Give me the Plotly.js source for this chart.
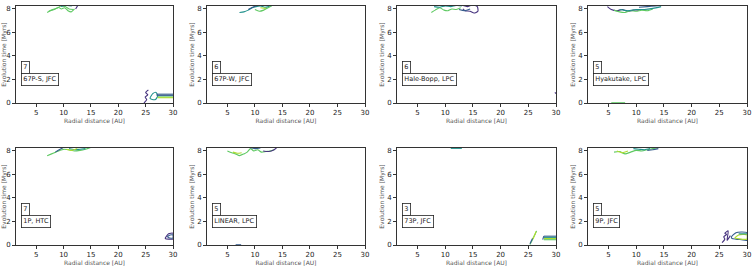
<!DOCTYPE html>
<html>
<head>
<meta charset="utf-8">
<script src="https://cdn.plot.ly/plotly-3.0.1.min.js"></script>
<style>
  html, body { margin: 0; padding: 0; background: #fff; }
  #chart { width: 755px; height: 269px; }
</style>
</head>
<body>
<div id="chart"></div>
<script>
// Contour levels (viridis) drawn as thin lines
const levelColors = ['#46327e', '#365c8d', '#21918c', '#5ec962', '#addc30'];

// Comet panels: name, number of evolution tracks
const panelNames = ['67P-S, JFC', '67P-W, JFC', 'Hale-Bopp, LPC', 'Hyakutake, LPC',
                    '1P, HTC', 'LINEAR, LPC', '73P, JFC', '9P, JFC'];
const panelCounts = ['7', '6', '6', '5', '7', '5', '3', '5'];

// Axis ticks
const xTicks = [5, 10, 15, 20, 25, 30];
const yTicks = [0, 2, 4, 6, 8];

// Contour segments per panel: [level, radial distances (AU), times (Myr)]
const contours67PS = [
  [3, [7.0, 7.6, 8.3, 9.0, 9.6, 10.2, 10.8, 11.4, 12.0], [7.7, 7.85, 7.95, 8.15, 8.0, 8.1, 7.85, 7.75, 8.0]],
  [3, [7.3, 8.0, 8.8, 9.5, 10.3, 11.0, 11.8], [7.8, 7.95, 8.05, 8.25, 8.2, 8.0, 7.95]],
  [2, [9.5, 10.5, 11.5], [8.2, 8.3, 8.25]],
  [0, [12.2, 12.6], [8.0, 8.3]],
  [0, [24.7, 25.2, 24.9, 25.4, 25.0, 25.5], [0.0, 0.3, 0.5, 0.7, 0.9, 1.1]],
  [2, [25.8, 26.3, 26.9, 27.2, 26.8, 26.2, 25.8], [0.4, 0.8, 0.9, 0.6, 0.3, 0.3, 0.4]],
  [1, [27.0, 30.0], [0.75, 0.75]],
  [1, [27.0, 30.0], [0.65, 0.65]],
  [3, [27.2, 30.0], [0.52, 0.52]],
  [4, [27.2, 30.0], [0.45, 0.45]]
];
const contours67PW = [
  [2, [7.2, 8.0, 8.8, 9.5, 10.2, 11.0, 11.8, 12.5, 13.2, 14.0], [7.7, 7.75, 7.9, 8.1, 8.2, 8.25, 8.15, 8.2, 8.3, 8.3]],
  [3, [10.0, 10.8, 11.6, 12.4, 13.0], [7.95, 7.8, 7.9, 8.1, 8.25]],
  [1, [8.8, 9.6, 10.4], [7.95, 8.15, 8.3]],
  [4, [11.0, 12.0], [8.1, 8.05]]
];
const contoursHaleBopp = [
  [3, [7.5, 8.2, 9.0, 9.8, 10.5, 11.2, 12.0, 12.8], [7.7, 7.9, 8.1, 7.9, 7.85, 8.0, 7.95, 8.1]],
  [2, [8.0, 9.0, 10.0, 11.0, 12.0, 13.0], [8.2, 8.15, 8.25, 8.2, 8.3, 8.25]],
  [0, [13.2, 14.0, 15.0, 15.8, 15.9, 15.2, 14.5, 13.6, 13.2], [8.3, 8.2, 8.35, 8.2, 7.8, 7.65, 7.8, 7.85, 8.0]],
  [1, [12.5, 13.5, 14.5], [7.95, 7.85, 8.0]],
  [0, [29.8, 30.0], [0.9, 0.8]]
];
const contoursHyakutake = [
  [0, [4.8, 5.5, 6.5, 7.5, 8.5, 9.5, 10.5], [8.2, 7.95, 7.85, 7.95, 7.8, 7.9, 7.9]],
  [3, [6.0, 7.0, 8.0, 9.0, 10.0, 11.0, 12.0, 13.0], [7.9, 7.75, 7.7, 7.85, 7.8, 7.9, 7.85, 8.0]],
  [2, [7.0, 8.5, 10.0, 11.5, 13.0, 14.5], [7.95, 7.85, 7.95, 7.95, 8.05, 8.2]],
  [1, [10.5, 12.0, 13.5, 14.6], [8.15, 8.2, 8.25, 8.3]],
  [3, [5.5, 8.0], [0.02, 0.02]]
];
const contours1P = [
  [3, [7.0, 7.8, 8.6, 9.4, 10.2, 11.0, 12.0, 13.0, 14.0, 15.0], [7.6, 7.75, 7.9, 8.05, 8.15, 8.1, 8.0, 8.05, 8.15, 8.3]],
  [1, [8.5, 9.2, 10.0], [7.9, 8.1, 8.3]],
  [2, [11.0, 12.0, 13.0, 14.0], [8.2, 8.1, 8.15, 8.2]],
  [4, [10.5, 11.5, 12.5], [8.15, 8.05, 8.2]],
  [0, [28.6, 29.2, 30.0, 30.0, 29.2, 28.6, 28.6], [0.6, 0.95, 1.0, 0.5, 0.5, 0.55, 0.6]],
  [1, [29.0, 29.5, 30.0, 30.0, 29.4, 29.0], [0.7, 0.85, 0.85, 0.6, 0.6, 0.7]]
];
const contoursLinear = [
  [3, [5.0, 5.8, 6.5, 7.2, 8.0, 8.6, 9.2, 9.8, 10.5, 11.2, 12.0, 12.8, 13.5], [8.0, 7.85, 7.75, 7.6, 7.75, 7.9, 8.2, 8.0, 8.1, 7.9, 7.95, 8.0, 8.1]],
  [0, [11.5, 12.5, 13.5, 14.0], [8.0, 7.95, 8.1, 8.3]],
  [4, [6.0, 6.8, 7.6], [7.9, 7.8, 7.85]],
  [1, [9.0, 10.0, 11.0], [8.3, 8.2, 8.25]],
  [1, [6.5, 7.5], [0.02, 0.02]]
];
const contours73P = [
  [2, [11.0, 13.0], [8.22, 8.22]],
  [3, [25.3, 25.6, 25.9, 26.1, 26.3, 26.5], [0.05, 0.3, 0.6, 0.8, 1.0, 1.2]],
  [1, [25.3, 25.6, 25.8], [0.1, 0.4, 0.6]],
  [4, [25.8, 26.2, 26.4], [0.5, 0.9, 1.15]],
  [1, [27.8, 30.0], [0.75, 0.75]],
  [2, [27.8, 30.0], [0.65, 0.65]],
  [4, [27.8, 30.0], [0.55, 0.55]],
  [3, [27.8, 30.0], [0.45, 0.45]],
  [1, [27.6, 27.8], [0.45, 0.75]]
];
const contours9P = [
  [3, [6.0, 7.0, 8.0, 9.0, 10.0, 11.0, 12.0, 13.0, 14.0], [7.9, 7.95, 7.75, 7.9, 8.05, 8.0, 8.1, 8.2, 8.3]],
  [1, [12.0, 13.0, 14.0], [8.05, 8.1, 8.2]],
  [2, [9.5, 10.5, 11.5, 12.5], [8.2, 8.15, 8.1, 8.2]],
  [4, [6.5, 7.5, 8.5], [8.0, 7.85, 8.0]],
  [0, [25.5, 26.0, 25.8, 26.3, 26.0, 26.6, 26.4, 27.0], [0.2, 0.5, 0.7, 0.9, 1.0, 1.2, 0.4, 0.8]],
  [1, [27.2, 28.0, 29.0, 30.0, 30.0, 29.0, 28.0, 27.3, 27.2], [0.7, 1.05, 1.1, 1.05, 0.4, 0.45, 0.5, 0.55, 0.7]],
  [4, [27.8, 28.5, 29.5, 30.0, 30.0, 29.0, 28.2, 27.8], [0.6, 0.85, 0.9, 0.85, 0.5, 0.5, 0.55, 0.6]],
  [2, [28.5, 30.0], [0.95, 0.95]]
];

const panelContours = [contours67PS, contours67PW, contoursHaleBopp, contoursHyakutake,
                       contours1P, contoursLinear, contours73P, contours9P];

// Grid geometry in pixels (left, right) per column and (top, bottom) per row
const W = 755, H = 269;
const colPx = [[16, 173], [207, 365], [397, 556], [588, 747]];
const rowPx = [[6, 103], [148, 245]];

const traces = [];
const layout = {
  width: W, height: H, autosize: false,
  margin: {l: 0, r: 0, t: 0, b: 0},
  paper_bgcolor: '#fff', plot_bgcolor: '#fff',
  showlegend: false,
  font: {family: 'DejaVu Sans, sans-serif', color: '#333'},
  annotations: []
};

panelContours.forEach((segs, i) => {
  const n = i + 1;
  const xa = n === 1 ? 'x' : 'x' + n;
  const ya = n === 1 ? 'y' : 'y' + n;
  segs.forEach(([lvl, xs, ys]) => {
    traces.push({
      type: 'scatter', mode: 'lines', x: xs, y: ys, xaxis: xa, yaxis: ya,
      line: {color: levelColors[lvl], width: 1.1, shape: 'spline', smoothing: 0.6},
      hoverinfo: 'skip'
    });
  });
  const col = i % 4, row = Math.floor(i / 4);
  const [l, r] = colPx[col];
  const [t, b] = rowPx[row];
  const xKey = n === 1 ? 'xaxis' : 'xaxis' + n;
  const yKey = n === 1 ? 'yaxis' : 'yaxis' + n;
  layout[xKey] = {
    domain: [l / W, r / W], anchor: ya, range: [1.3, 30],
    tickvals: xTicks, ticks: 'outside', ticklen: 3, tickwidth: 0.8, tickcolor: '#000',
    tickfont: {size: 7, color: '#222'},
    showline: true, mirror: true, linecolor: '#000', linewidth: 0.8,
    showgrid: false, zeroline: false, automargin: false,
    title: {text: 'Radial distance [AU]', font: {size: 6, color: '#555555'}, standoff: 2}
  };
  layout[yKey] = {
    domain: [1 - b / H, 1 - t / H], anchor: xa, range: [0, 8.25],
    tickvals: yTicks, ticks: 'outside', ticklen: 3, tickwidth: 0.8, tickcolor: '#000',
    tickfont: {size: 7, color: '#222'},
    showline: true, mirror: true, linecolor: '#000', linewidth: 0.8,
    showgrid: false, zeroline: false, automargin: false,
    title: {text: 'Evolution time [Myrs]', font: {size: 6, color: '#555555'}, standoff: 2}
  };
  const box = {
    xref: xa + ' domain', yref: ya, xanchor: 'left', yanchor: 'middle',
    showarrow: false, bordercolor: '#222', borderwidth: 0.8, borderpad: 1.5,
    bgcolor: '#fff', font: {size: 6.5, color: '#222'}
  };
  layout.annotations.push(Object.assign({}, box, {x: 0.03, y: 3.0, text: panelCounts[i]}));
  layout.annotations.push(Object.assign({}, box, {x: 0.03, y: 2.0, text: panelNames[i]}));
});

Plotly.newPlot('chart', traces, layout, {displayModeBar: false, staticPlot: true});
</script>
</body>
</html>
